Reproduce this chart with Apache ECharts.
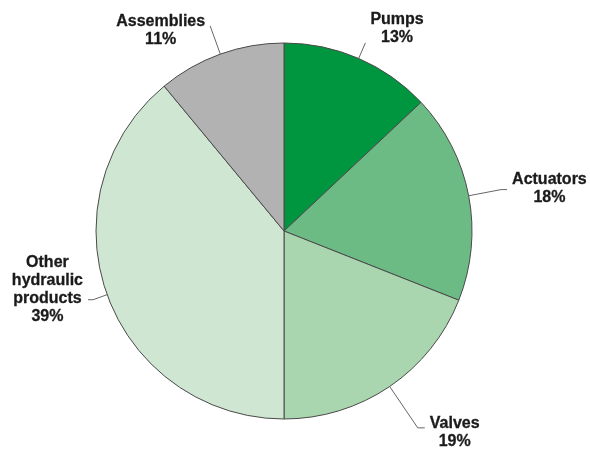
<!DOCTYPE html>
<html>
<head>
<meta charset="utf-8">
<script src="https://cdn.jsdelivr.net/npm/echarts@6/dist/echarts.min.js"></script>
<style>
html,body{margin:0;padding:0;background:#fff;}
#chart{width:590px;height:452px;}
</style>
</head>
<body>
<div id="chart"></div>
<script>
const categories = ['Pumps', 'Actuators', 'Valves', 'Other hydraulic products', 'Assemblies'];
const shares = [13, 18, 19, 39, 11];
const sliceColors = ['#009640', '#6cbb85', '#a9d6ae', '#cfe7d2', '#b2b2b2'];

// per-label leader-line and text placement tweaks (style only)
const labelTweaks = {
  'Pumps': { length: 17, length2: 0, padding: [0, 0, 28, 0] },
  'Actuators': { length: 33, length2: 6, padding: [0, 0, 2, 0] },
  'Valves': { length: 50, length2: 7, padding: [10, 0, 0, 0] },
  'Other hydraulic products': { length: 15, length2: 5, padding: [0, 0, 20, 0] },
  'Assemblies': { length: 30, length2: 0, padding: [9, 0, 0, 0] }
};

const data = categories.map((name, i) => {
  const t = labelTweaks[name];
  return {
    name: name,
    value: shares[i],
    itemStyle: { color: sliceColors[i] },
    label: { padding: t.padding },
    labelLine: { length: t.length, length2: t.length2 }
  };
});

const chart = echarts.init(document.getElementById('chart'), null, { renderer: 'canvas' });
chart.setOption({
  animation: false,
  backgroundColor: '#ffffff',
  series: [{
    type: 'pie',
    center: [284, 231],
    radius: 188,
    startAngle: 90,
    clockwise: true,
    avoidLabelOverlap: false,
    data: data,
    itemStyle: { borderColor: '#4a4a4a', borderWidth: 1 },
    label: {
      show: true,
      position: 'outside',
      color: '#1a1a1a',
      fontFamily: 'Liberation Sans',
      fontWeight: 'bold',
      fontSize: 16,
      lineHeight: 18,
      formatter: function (p) {
        const lines = p.name.split(' ').map(w => '{a|' + w + '}');
        lines.push('{a|' + p.value + '%}');
        return lines.join('\n');
      },
      rich: {
        a: {
          align: 'center',
          color: '#1a1a1a',
          fontFamily: 'Liberation Sans',
          fontWeight: 'bold',
          fontSize: 16,
          lineHeight: 18,
          textBorderColor: '#1a1a1a',
          textBorderWidth: 0.3
        }
      }
    },
    labelLine: {
      show: true,
      smooth: false,
      lineStyle: { color: '#666666', width: 1 }
    },
    emphasis: { disabled: true }
  }]
});
</script>
</body>
</html>
